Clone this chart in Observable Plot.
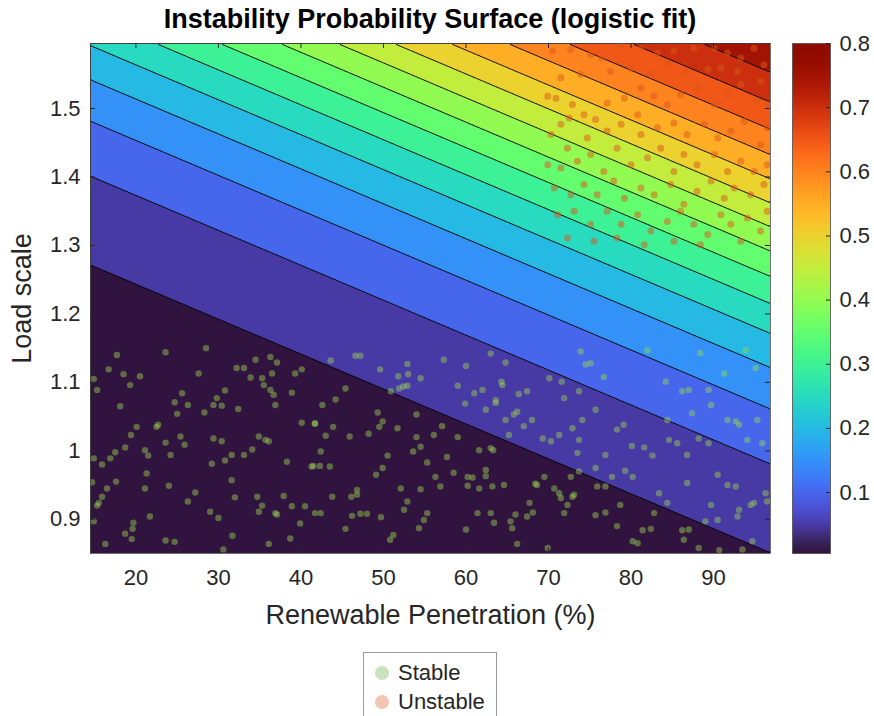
<!DOCTYPE html>
<html>
<head>
<meta charset="utf-8">
<script src="https://cdn.jsdelivr.net/npm/d3@7"></script>
<script src="https://cdn.jsdelivr.net/npm/@observablehq/plot@0.6"></script>
<style>
  body { margin: 0; background: #fff; font-family: "Liberation Sans", Arial, sans-serif; }
  #wrap { position: relative; width: 874px; height: 716px; overflow: hidden; background: #fff; }
  #main { position: absolute; left: 0; top: 0; }
  #cbar { position: absolute; left: 780px; top: 0; }
  #title { position: absolute; left: 40px; width: 780px; top: 3px; text-align: center; font-weight: bold; font-size: 27px; color: #000; line-height: 33px; white-space: nowrap; }
  #legend { position: absolute; left: 363px; top: 652px; width: 132px; height: 80px; border: 1px solid #9a9a9a; background: #fff; }
  .item { position: absolute; left: 0; width: 132px; height: 28px; }
  .item .sw { position: absolute; left: 11px; top: 7px; width: 14px; height: 14px; border-radius: 50%; }
  .item .lb { position: absolute; left: 34px; top: 1px; font-size: 22px; color: #262626; line-height: 26px; }
</style>
</head>
<body>
<div id="wrap">
  <div id="title">Instability Probability Surface (logistic fit)</div>
  <div id="main"></div>
  <div id="cbar"></div>
  <div id="legend">
    <div class="item" style="top:6px"><span class="sw" style="background:#c9e3bf"></span><span class="lb">Stable</span></div>
    <div class="item" style="top:35px"><span class="sw" style="background:#f3c6b3"></span><span class="lb">Unstable</span></div>
  </div>
</div>
<script>
// ---- data ----
const renewableTicks = [20, 30, 40, 50, 60, 70, 80, 90];
const loadTicks = [0.9, 1, 1.1, 1.2, 1.3, 1.4, 1.5];
const probTicks = [0.1, 0.2, 0.3, 0.4, 0.5, 0.6, 0.7, 0.8];
const contourLevels = [0, 0.05, 0.1, 0.15, 0.2, 0.25, 0.3, 0.35, 0.4, 0.45, 0.5, 0.55, 0.6, 0.65, 0.7, 0.75];
const renewableRange = [14.5, 96.9];
const loadRange = [0.85, 1.595];
const probRange = [0.005, 0.8];
// fitted logistic model: logit(p) = b0 + b1*renewable + b2*load
const logitCoef = [-10.694, 0.02939, 5.76];

const stablePoints = [
  [17.7,1.140],[23.6,1.144],[28.5,1.150],[16.7,1.119],[18.5,1.112],[20.5,1.109],[19.3,1.096],[14.9,1.105],[15.3,1.089],[27.6,1.113],
  [32.2,1.121],[33.1,1.121],[34.5,1.133],[36.3,1.137],[37.1,1.129],[33.9,1.107],[35.3,1.106],[36.5,1.113],[39.3,1.113],[40.1,1.119],
  [25.6,1.084],[24.7,1.071],[26.3,1.067],[30.8,1.088],[29.8,1.077],[29.4,1.067],[30.4,1.066],[35.5,1.096],[36.3,1.089],[36.7,1.082],
  [36.9,1.067],[38.9,1.085],[18.1,1.065],[25.0,1.054],[28.3,1.056],[32.4,1.061],[22.7,1.038],[22.5,1.035],[20.1,1.035],[19.4,1.023],
  [25.4,1.021],[25.9,1.009],[23.6,1.012],[29.4,1.018],[30.4,1.014],[34.9,1.021],[35.7,1.016],[36.1,1.014],[34.1,1.002],[33.1,0.994],
  [31.6,0.994],[30.8,0.986],[29.2,0.981],[40.1,1.041],[41.7,1.040],[18.7,1.005],[17.5,0.998],[16.9,0.989],[15.9,0.980],[14.9,0.989],
  [21.1,1.001],[21.5,0.993],[24.2,0.994],[21.3,0.967],[21.1,0.945],[24.0,0.949],[17.6,0.955],[16.5,0.945],[15.9,0.933],[15.5,0.924],
  [15.3,0.920],[14.7,0.954],[38.3,0.984],[41.3,0.977],[27.2,0.939],[26.3,0.926],[31.6,0.957],[32.0,0.932],[34.7,0.933],[35.3,0.920],
  [34.9,0.911],[37.9,0.934],[38.9,0.919],[40.5,0.919],[29.0,0.911],[30.0,0.902],[36.9,0.909],[37.1,0.907],[21.7,0.904],[14.9,0.897],
  [19.7,0.895],[19.6,0.886],[18.7,0.879],[19.5,0.871],[39.9,0.894],[23.6,0.869],[24.7,0.867],[31.7,0.876],[30.6,0.856],[36.1,0.864],
  [38.7,0.872],[16.3,0.864],[41.7,0.909],
  [43.6,1.132],[46.6,1.139],[47.2,1.139],[49.6,1.119],[52.9,1.127],[51.8,1.109],[53.0,1.112],[54.5,1.106],[52.4,1.094],[52.9,1.095],
  [51.9,1.091],[50.9,1.087],[57.3,1.133],[60.0,1.124],[63.0,1.142],[64.8,1.129],[59.0,1.095],[61.0,1.084],[62.0,1.089],[64.3,1.101],
  [64.4,1.096],[63.6,1.074],[63.6,1.070],[59.9,1.069],[62.4,1.060],[66.4,1.083],[67.4,1.087],[66.2,1.057],[65.8,1.053],[64.8,1.045],
  [67.0,1.036],[68.0,1.045],[65.2,1.023],
  [45.4,1.091],[44.2,1.075],[42.6,1.067],[41.7,1.040],[43.9,1.035],[43.0,1.022],[45.9,1.021],[48.2,1.025],[49.3,1.056],[49.9,1.043],
  [49.5,1.035],[51.7,1.033],[54.0,1.053],[54.0,1.020],[54.5,1.006],[53.6,0.999],[56.1,1.023],[57.1,1.036],[59.0,1.020],[42.4,0.999],
  [50.5,0.993],[41.5,0.978],[42.3,0.978],[43.5,0.977],[49.1,0.965],[49.9,0.975],[55.3,0.983],[57.7,0.991],[56.3,0.962],[58.5,0.968],
  [56.9,0.948],[52.1,0.945],[54.5,0.944],[46.8,0.943],[46.8,0.936],[46.1,0.933],[43.8,0.933],[42.4,0.909],[46.2,0.905],[47.2,0.908],
  [48.0,0.908],[49.7,0.903],[52.9,0.926],[52.5,0.914],[55.3,0.909],[54.9,0.899],[54.3,0.887],[45.4,0.886],[51.2,0.877],[50.8,0.870],
  [60.0,0.885],[61.6,1.001],[63.0,1.004],[63.3,1.001],[60.2,0.962],[60.8,0.961],[62.4,0.972],[62.4,0.963],[61.6,0.945],[63.2,0.948],
  [64.6,0.950],[60.2,0.949],[61.4,0.909],[63.0,0.909],[63.4,0.895],[65.4,0.897],[65.6,0.887],[66.0,0.907],[67.7,0.924],[68.1,0.910],
  [67.4,0.904],[68.4,0.952],[66.2,0.864],
  [73.9,1.145],[75.1,1.128],[74.5,1.126],[70.1,1.106],[71.9,1.077],[71.6,1.101],[73.7,1.087],[75.7,1.060],[74.1,1.045],[72.9,1.033],
  [69.3,1.018],[70.3,1.014],[73.7,1.016],[73.5,0.997],[71.3,1.023],[76.9,0.994],[75.7,0.975],[78.3,1.031],[79.1,1.038],[80.1,1.007],
  [81.6,1.005],[82.6,0.993],[77.7,0.962],[79.3,0.971],[80.2,0.962],[82.0,1.147],[76.7,1.108],[84.2,1.101],[86.2,1.087],[87.0,1.089],
  [89.4,1.089],[91.3,1.113],[88.4,1.143],[93.1,1.038],[92.7,1.043],[91.7,1.045],[93.9,1.147],[95.1,1.121],[89.7,1.067],[87.4,1.055],
  [84.4,1.045],[84.6,1.016],[85.6,1.011],[86.8,0.994],[88.2,1.018],[89.4,1.011],[90.5,0.965],[91.7,0.950],[92.7,0.948],[95.3,1.045],
  [95.9,1.011],[94.1,1.016],[86.8,0.953],[83.4,0.938],[84.4,0.924],[89.7,0.921],[90.5,0.899],[89.0,0.897],[93.1,0.914],[94.5,0.921],
  [94.9,0.924],[92.9,0.904],[96.3,0.938],[96.5,0.926],[94.7,0.868],
  [68.6,0.950],[70.7,0.945],[71.3,0.938],[71.5,0.931],[72.9,0.933],[73.1,0.936],[72.3,0.921],[71.9,0.909],[69.5,0.962],[72.7,0.962],
  [73.7,0.970],[75.7,0.906],[76.9,0.910],[78.3,0.890],[81.4,0.884],[82.4,0.886],[80.2,0.868],[80.8,0.865],[86.2,0.884],[87.0,0.885],
  [86.4,0.870],[69.9,0.858],[75.9,0.948],[88.2,0.858],[90.7,0.855],[93.5,0.856],[82.8,0.909],[78.7,0.921],[76.9,0.948]
];

const unstablePoints = [
  [70.5,1.584],[72.7,1.586],[75.1,1.579],[76.5,1.574],[78.8,1.593],[81.2,1.588],[83.2,1.581],[85.2,1.584],[87.6,1.588],[90.1,1.588],
  [91.7,1.581],[93.3,1.574],[94.9,1.588],[96.1,1.564],[90.9,1.559],[92.9,1.554],[95.7,1.540],[89.3,1.557],[86.8,1.554],[84.4,1.567],
  [82.4,1.550],[80.0,1.559],[77.5,1.554],[73.9,1.550],[71.5,1.545],[69.9,1.518],[70.9,1.515],[72.9,1.506],[72.5,1.486],[71.5,1.477],
  [74.3,1.491],[75.7,1.484],[77.1,1.508],[79.2,1.515],[81.2,1.530],[82.8,1.518],[84.4,1.506],[86.0,1.520],[88.0,1.530],[90.1,1.506],
  [91.7,1.520],[93.3,1.535],[95.3,1.511],[96.5,1.506],[70.3,1.462],[72.3,1.442],[74.7,1.457],[77.1,1.467],[78.8,1.477],[80.8,1.491],
  [81.2,1.462],[83.2,1.472],[85.2,1.479],[86.8,1.462],[88.9,1.477],[90.5,1.457],[92.1,1.467],[93.7,1.481],[95.7,1.447],[96.5,1.472],
  [69.9,1.418],[71.5,1.413],[73.5,1.423],[75.1,1.433],[76.7,1.408],[78.3,1.442],[80.0,1.418],[82.0,1.428],[83.6,1.442],[85.2,1.408],
  [86.4,1.433],[88.0,1.418],[90.1,1.433],[91.7,1.408],[93.3,1.423],[94.9,1.408],[96.5,1.418],[70.7,1.384],[72.7,1.374],[74.3,1.389],
  [75.9,1.374],[77.9,1.394],[79.2,1.369],[81.2,1.384],[82.8,1.374],[84.8,1.389],[86.4,1.360],[88.0,1.379],[89.7,1.394],[91.3,1.369],
  [92.5,1.384],[94.5,1.374],[96.1,1.389],[71.1,1.345],[73.1,1.350],[75.1,1.331],[77.1,1.350],[78.8,1.331],[80.8,1.345],[82.4,1.321],
  [84.4,1.335],[86.0,1.350],[87.6,1.331],[89.3,1.316],[90.9,1.345],[92.1,1.331],[94.1,1.340],[95.7,1.321],[96.5,1.350],[72.3,1.311],
  [75.5,1.306],[78.3,1.311],[81.6,1.301],[85.2,1.306],[88.4,1.301],[93.3,1.306]
];

// ---- drawing ----
const prob = (x, y) => 1 / (1 + Math.exp(-(logitCoef[0] + logitCoef[1] * x + logitCoef[2] * y)));

// MATLAB-like turbo: d3 turbo with MATLAB's dark purple start
function turboM(t) {
  t = Math.max(0, Math.min(1, t));
  if (t < 0.02) return d3.interpolateRgb("#31133f", d3.interpolateTurbo(0.02))(t / 0.02);
  return d3.interpolateTurbo(t);
}
const colorScale = {type: "linear", domain: probRange, interpolate: turboM, clamp: true};
const font = "'Liberation Sans', Arial, sans-serif";

const main = Plot.plot({
  width: 780, height: 640,
  marginLeft: 90, marginRight: 10, marginTop: 43, marginBottom: 87,
  x: {domain: renewableRange, label: null},
  y: {domain: loadRange, label: null},
  color: colorScale,
  style: {fontFamily: font, color: "#262626", background: "transparent", overflow: "visible"},
  marks: [
    Plot.contour({
      fill: prob,
      x1: renewableRange[0], x2: renewableRange[1], y1: loadRange[0], y2: loadRange[1],
      thresholds: contourLevels, stroke: "#000", strokeWidth: 1, clip: true
    }),
    Plot.dot(stablePoints, {x: d => d[0], y: d => d[1], r: 3.2, fill: "#99d94d", fillOpacity: 0.45, clip: true}),
    Plot.dot(unstablePoints, {x: d => d[0], y: d => d[1], r: 3.5, fill: "#d9581a", fillOpacity: 0.5, clip: true}),
    Plot.frame({stroke: "#4d4d4d", strokeWidth: 0.8}),
    Plot.ruleX(renewableTicks, {x: d => d, insetTop: 505, stroke: "#262626"}),
    Plot.ruleX(renewableTicks, {x: d => d, insetBottom: 505, stroke: "#262626"}),
    Plot.ruleY(loadTicks, {y: d => d, insetRight: 675, stroke: "#262626"}),
    Plot.ruleY(loadTicks, {y: d => d, insetLeft: 675, stroke: "#262626"}),
    Plot.axisX(renewableTicks, {tickSize: 0, tickPadding: 16, fontSize: 22}),
    Plot.axisY(loadTicks, {tickSize: 0, tickPadding: 10, fontSize: 22, tickFormat: d => String(d)}),
    Plot.text(["Renewable Penetration (%)"], {frameAnchor: "bottom", dy: 62, lineAnchor: "middle", textAnchor: "middle", fontSize: 27, fill: "#262626"}),
    Plot.text(["Load scale"], {frameAnchor: "left", dx: -68, rotate: -90, textAnchor: "middle", lineAnchor: "middle", fontSize: 27, fill: "#262626"})
  ]
});
document.getElementById("main").appendChild(main);

const cbar = Plot.plot({
  width: 94, height: 640,
  marginLeft: 12, marginRight: 44, marginTop: 43, marginBottom: 87,
  x: {domain: [0, 1], axis: null},
  y: {domain: probRange, label: null},
  color: colorScale,
  style: {fontFamily: font, color: "#262626", background: "transparent", overflow: "visible"},
  marks: [
    Plot.raster({fill: (x, y) => y, x1: 0, x2: 1, y1: probRange[0], y2: probRange[1], pixelSize: 1}),
    Plot.frame({stroke: "#4d4d4d", strokeWidth: 0.8}),
    Plot.ruleY(probTicks, {y: d => d, insetLeft: 34, stroke: "#262626"}),
    Plot.axisY(probTicks, {anchor: "right", tickSize: 0, tickPadding: 9, fontSize: 22, tickFormat: d => String(d)})
  ]
});
document.getElementById("cbar").appendChild(cbar);
</script>
</body>
</html>
